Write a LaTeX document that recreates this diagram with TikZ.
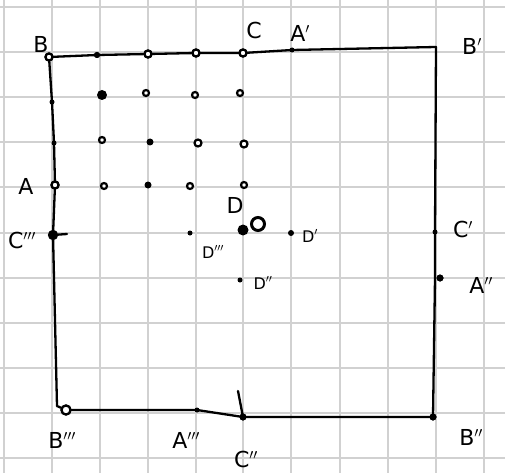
\documentclass[tikz,border=0pt]{standalone}
\usepackage{fontspec}
\setmainfont{DejaVu Sans}
\begin{document}
\begin{tikzpicture}[x=1pt,y=-1pt,
  gridline/.style={draw=black!18,line width=2.2pt},
  edge/.style={draw=black,line width=2.3pt,line join=round,line cap=round},
  fdot/.style={circle,fill=black,inner sep=0pt,minimum size=6pt},
  odot/.style={circle,draw=black,line width=2.2pt,fill=white,inner sep=0pt,minimum size=7pt},
  lbl/.style={font=\fontsize{22}{24}\selectfont,inner sep=0pt},
  slbl/.style={font=\fontsize{16}{18}\selectfont,inner sep=0pt}]
\useasboundingbox (0,0) rectangle (505,473);
\fill[white] (0,0) rectangle (505,473);
\foreach \x in {4,52,100,148,196,243,291,340,388,436,484}
  \draw[gridline] (\x,0) -- (\x,473);
\foreach \y in {7,52,97,142,187,233,278,323,368,413,458}
  \draw[gridline] (0,\y) -- (505,\y);
% corners
\coordinate (Bp) at (436,47);
\coordinate (cBL) at (57,406);
% square
\node[odot] (B) at (49,57) {};
\node[fdot] (t1) at (97,55) {};
\node[odot] (t2) at (148,54) {};
\node[odot] (t3) at (196,53) {};
\node[odot] (C) at (243,53) {};
\node[fdot,minimum size=5pt] (Ap) at (292,50) {};
\node[fdot,minimum size=5pt] (l1) at (52,102) {};
\node[fdot,minimum size=5pt] (l2) at (54,143) {};
\node[odot] (A) at (55,185) {};
\node[odot,minimum size=8pt] (Cppp) at (53,235) {};
\node[odot,minimum size=9pt] (Bppp) at (66,410) {};
\node[fdot,minimum size=5pt] (Appp) at (197,410) {};
\node[fdot,minimum size=7pt] (Cpp) at (243,417) {};
\node[fdot,minimum size=7pt] (Bpp) at (433,417) {};
\node[fdot,minimum size=5pt] (Cp) at (435,232) {};
\node[fdot,minimum size=7pt] (App) at (440,278) {};
\coordinate (tick) at (238,391);
\draw[edge] (B.center) -- (t1.center) -- (t2.center) -- (t3.center) -- (C.center) -- (Ap.center) -- (Bp);
\draw[edge] (Bp) -- (Cp.center) -- (435,278) -- (Bpp.center);
\draw[edge] (B.center) -- (l1.center) -- (l2.center) -- (A.center) -- (Cppp.center) -- (cBL) -- (Bppp);
\draw[edge] (Bppp) -- (Appp.center) -- (Cpp.center) -- (Bpp.center);
\draw[edge] (tick) -- (Cpp.center);
\draw[edge] (Cppp.center) -- (67,234);
% redraw marks on top
\node[odot] at (B) {};
\node[odot] at (t2) {};
\node[odot] at (t3) {};
\node[odot] at (C) {};
\node[odot] at (A) {};
\node[odot,minimum size=9pt] at (Bppp) {};
\node[fdot,minimum size=9pt] at (Cppp) {};
\node[fdot] at (t1) {};
\node[fdot,minimum size=7pt] at (Cpp) {};
\node[fdot,minimum size=7pt] at (Bpp) {};
\node[fdot,minimum size=7pt] at (App) {};
% inner grid
\node[fdot,minimum size=10pt] (g11) at (102,95) {};
\node[odot,minimum size=6pt] (g12) at (146,93) {};
\node[odot,minimum size=6pt] (g13) at (195,95) {};
\node[odot,minimum size=6pt] (g14) at (240,93) {};
\node[odot,minimum size=6pt] (g21) at (102,140) {};
\node[fdot,minimum size=7pt] (g22) at (150,142) {};
\node[odot,minimum size=7pt] (g23) at (198,143) {};
\node[odot,minimum size=7pt] (g24) at (244,144) {};
\node[odot,minimum size=6pt] (g31) at (104,186) {};
\node[fdot,minimum size=7pt] (g32) at (148,185) {};
\node[odot,minimum size=6pt] (g33) at (190,186) {};
\node[odot,minimum size=6pt] (g34) at (244,185) {};
% D points
\node[fdot,minimum size=11pt] (D) at (243,230) {};
\node[odot,minimum size=13pt,line width=3pt] (Dc) at (258,224) {};
\node[fdot,minimum size=6pt] (Dp) at (291,233) {};
\node[fdot,minimum size=5pt] (Dppp) at (190,233) {};
\node[fdot,minimum size=5pt] (Dpp) at (240,280) {};
% labels
\node[lbl] (LB) at (41,44) {B};
\node[lbl] (LC) at (254,30) {C};
\node[lbl] (LAp) at (300,33) {A$'$};
\node[lbl] (LBp) at (472,46) {B$'$};
\node[lbl] (LA) at (26,186) {A};
\node[lbl] (LCppp) at (22,240) {C$'''$};
\node[lbl] (LD) at (235,205) {D};
\node[slbl] (LDp) at (310,236) {D$'$};
\node[slbl] (LDppp) at (213,252) {D$'''$};
\node[slbl] (LDpp) at (263,283) {D$''$};
\node[lbl] (LCp) at (463,229) {C$'$};
\node[lbl] (LApp) at (481,285) {A$''$};
\node[lbl] (LBppp) at (62,440) {B$'''$};
\node[lbl] (LAppp) at (186,440) {A$'''$};
\node[lbl] (LCpp) at (246,459) {C$''$};
\node[lbl] (LBpp) at (471,437) {B$''$};
\end{tikzpicture}
\end{document}
